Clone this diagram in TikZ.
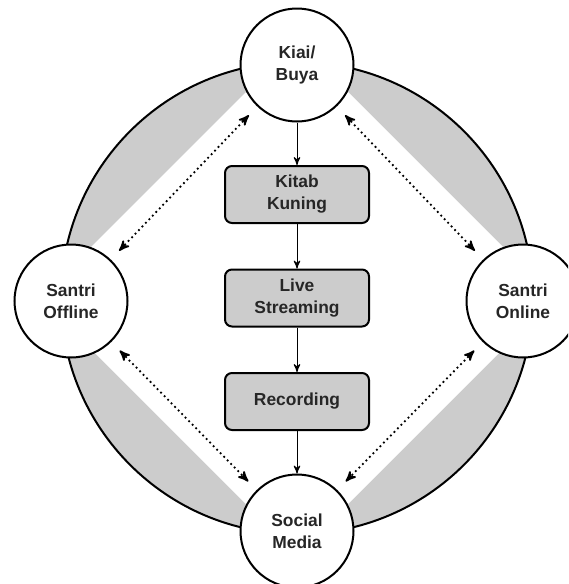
\documentclass[tikz,border=0pt]{standalone}
\usepackage{fontspec}
\setmainfont{Liberation Sans}
\usetikzlibrary{arrows}

\begin{document}
\begin{tikzpicture}[->,>=stealth',x=0.5pt,y=-0.5pt,line width=0.5pt]
\tikzset{actor/.style={circle,draw=black,line width=1pt,fill=white,minimum size=56.5pt,inner sep=0,align=center,font=\fontsize{8.7}{11}\selectfont\bfseries,text=black!85}}
\tikzset{medium/.style={rectangle,rounded corners=3.5pt,draw=black,line width=1pt,fill=black!20,minimum width=72pt,minimum height=28.5pt,inner sep=0,align=center,font=\fontsize{8.7}{11}\selectfont\bfseries,text=black!85}}
\tikzset{link/.style={<->,dash pattern=on 0.9pt off 1.6pt,line width=0.9pt,shorten >=6pt,shorten <=6pt}}

\useasboundingbox (0,0) rectangle (568,584);
\clip (0,0) rectangle (568,584);

% centre of the ring and the four actors around it
\coordinate (c) at (297,298);
\coordinate (pk) at (297,65);
\coordinate (pf) at (71,301);
\coordinate (po) at (523,301);
\coordinate (pm) at (297,531);

% grey ring, white diamond inside
\draw[-,fill=black!20,line width=1pt] (c) circle (118pt);
\fill[white] (c) ++(0,-257) -- ++(257,257) -- ++(-257,257) -- ++(-257,-257) -- cycle;

\node[actor] (kiai) at (pk) {Kiai/\\Buya};
\node[actor] (offline) at (pf) {Santri\\Offline};
\node[actor] (online) at (po) {Santri\\Online};
\node[actor] (sosmed) at (pm) {Social\\Media};

\node[medium] (kitab) at (297,194.5) {Kitab\\Kuning};
\node[medium] (live) at (297,298) {Live\\Streaming};
\node[medium] (rec) at (297,401.5) {Recording};

\draw (kiai) -- (kitab);
\draw (kitab) -- (live);
\draw (live) -- (rec);
\draw (rec) -- (sosmed);

\draw[link] (kiai) -- (offline);
\draw[link] (kiai) -- (online);
\draw[link] (offline) -- (sosmed);
\draw[link] (online) -- (sosmed);

\end{tikzpicture}
\end{document}
